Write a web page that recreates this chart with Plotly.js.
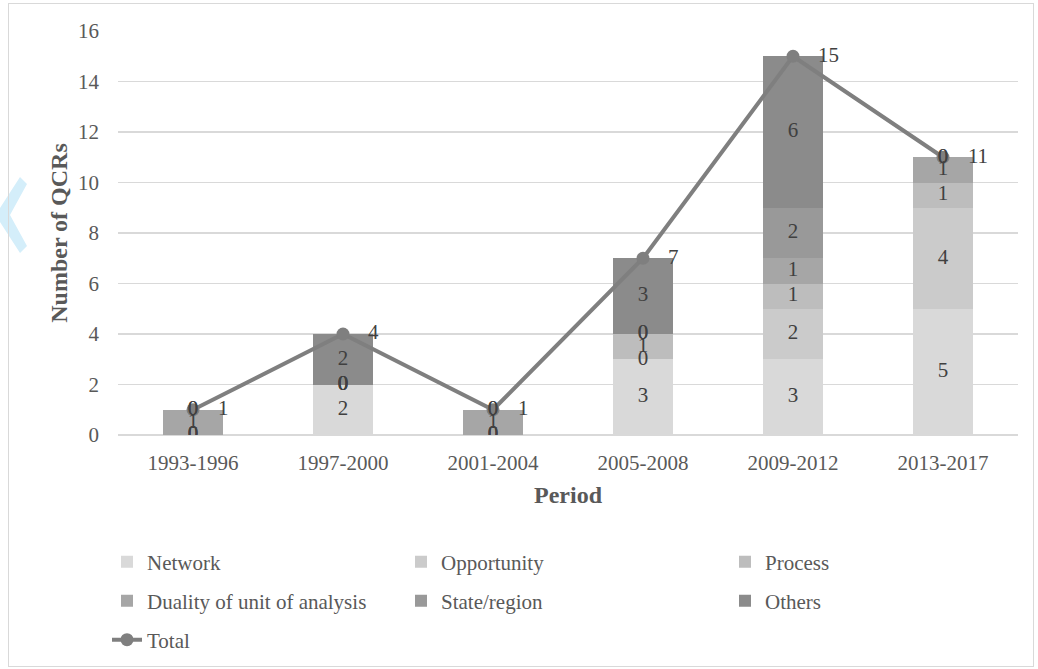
<!DOCTYPE html>
<html>
<head>
<meta charset="utf-8">
<script src="https://cdn.plot.ly/plotly-3.0.1.min.js"></script>
<style>
  html, body { margin: 0; padding: 0; background: #ffffff; }
  #wrap { position: relative; width: 1038px; height: 669px; overflow: hidden; }
  #chart { position: absolute; left: 0; top: 0; width: 1038px; height: 669px; }
  #frame { position: absolute; left: 8px; top: 3px; width: 1024px; height: 662px; border: 1px solid #d9d9d9; pointer-events: none; }
</style>
</head>
<body>
<div id="wrap"><div id="chart"></div><div id="frame"></div></div>
<script>
// ---- data ----
const periods = ["1993-1996", "1997-2000", "2001-2004", "2005-2008", "2009-2012", "2013-2017"];
const network     = [0, 2, 0, 3, 3, 5];
const opportunity = [0, 0, 0, 0, 2, 4];
const process     = [0, 0, 0, 1, 1, 1];
const duality     = [1, 0, 1, 0, 1, 1];
const stateRegion = [0, 0, 0, 0, 2, 0];
const others      = [0, 2, 0, 3, 6, 0];
const total       = [1, 4, 1, 7, 15, 11];
const yTicks      = [0, 2, 4, 6, 8, 10, 12, 14, 16];

const seriesNames  = ["Network", "Opportunity", "Process", "Duality of unit of analysis", "State/region", "Others"];
const seriesValues = [network, opportunity, process, duality, stateRegion, others];
const seriesColors = ["#d9d9d9", "#cbcbcb", "#bdbdbd", "#a6a6a6", "#999999", "#8b8b8b"];
const legendIds    = ["legend", "legend2", "legend3", "legend4", "legend5", "legend6"];

const FONT = "Liberation Serif, Times New Roman, serif";
const traces = [];

// stacked bars
seriesNames.forEach((name, i) => {
  traces.push({
    type: "bar", name: name, x: periods, y: seriesValues[i],
    marker: { color: seriesColors[i], line: { width: 0 } },
    legend: legendIds[i], hoverinfo: "skip"
  });
});

// total line
traces.push({
  type: "scatter", mode: "lines+markers+text", name: "Total",
  x: periods, y: total,
  text: total.map(v => "   " + v), textposition: "middle right",
  textfont: { family: FONT, size: 21, color: "#404040" },
  line: { color: "#7f7f7f", width: 4 },
  marker: { color: "#7f7f7f", size: 13 },
  legend: "legend7", hoverinfo: "skip"
});

// segment labels (computed from data: centre of each stacked segment)
const base = periods.map(() => 0);
seriesValues.forEach((vals) => {
  const ys = vals.map((v, j) => base[j] + v / 2);
  traces.push({
    type: "scatter", mode: "text", x: periods, y: ys,
    text: vals.map(String), textposition: "middle center",
    textfont: { family: FONT, size: 21, color: "#404040" },
    showlegend: false, hoverinfo: "skip"
  });
  vals.forEach((v, j) => { base[j] += v; });
});

const PL = 118, PT = 31, PW = 900, PH = 404;
const px2x = p => (p - PL) / PW;
const py2y = p => (PT + PH - p) / PH;
const pts = [[20,177],[27,184],[10,215],[27,246],[20,253],[0,222],[0,208]];
const wm = "M" + pts.map(p => px2x(p[0]) + "," + py2y(p[1])).join("L") + "Z";

// legend grid: text starts at x≈147 / 441 / 765 ; rows at y≈563 / 602 / 641
const colX = [147, 441, 765];
const rowY = [562, 601, 640];
function mkLegend(col, row) {
  return {
    orientation: "h", xanchor: "left", yanchor: "middle",
    x: px2x(colX[col] - 40), y: py2y(rowY[row]),
    font: { family: FONT, size: 21, color: "#595959" },
    bgcolor: "rgba(0,0,0,0)", itemclick: false, itemdoubleclick: false,
    traceorder: "normal"
  };
}

const layout = {
  width: 1038, height: 669,
  margin: { l: PL, r: 1038 - PL - PW, t: PT, b: 669 - PT - PH, pad: 0, autoexpand: false },
  paper_bgcolor: "#ffffff", plot_bgcolor: "#ffffff",
  barmode: "stack", bargap: 0.6,
  font: { family: FONT, size: 21, color: "#595959" },
  xaxis: {
    type: "category", showgrid: false, zeroline: false,
    showline: false, ticks: "", ticklabelstandoff: 13,
    tickfont: { family: FONT, size: 21, color: "#595959" },
    title: { text: "<b>Period</b>", standoff: 12, font: { family: FONT, size: 24, color: "#595959" } }
  },
  yaxis: {
    range: [0, 16], tickvals: yTicks, ticktext: yTicks.map(String),
    showgrid: true, gridcolor: "#d9d9d9", gridwidth: 1.5,
    zeroline: true, zerolinecolor: "#d9d9d9", zerolinewidth: 1.5,
    showline: false, ticks: "", ticklabelstandoff: 18,
    tickfont: { family: FONT, size: 21, color: "#595959" },
    title: { text: "<b>Number of QCRs</b>", standoff: 3, font: { family: FONT, size: 24, color: "#595959" } }
  },
  legend:  mkLegend(0, 0),
  legend2: mkLegend(1, 0),
  legend3: mkLegend(2, 0),
  legend4: mkLegend(0, 1),
  legend5: mkLegend(1, 1),
  legend6: mkLegend(2, 1),
  legend7: mkLegend(0, 2),
  shapes: [{
    type: "path", xref: "paper", yref: "paper", path: wm,
    fillcolor: "#d4eefa", line: { width: 0 }, layer: "below"
  }],
  hovermode: false, showlegend: true
};

Plotly.newPlot("chart", traces, layout, { displayModeBar: false, staticPlot: true });
</script>
</body>
</html>
